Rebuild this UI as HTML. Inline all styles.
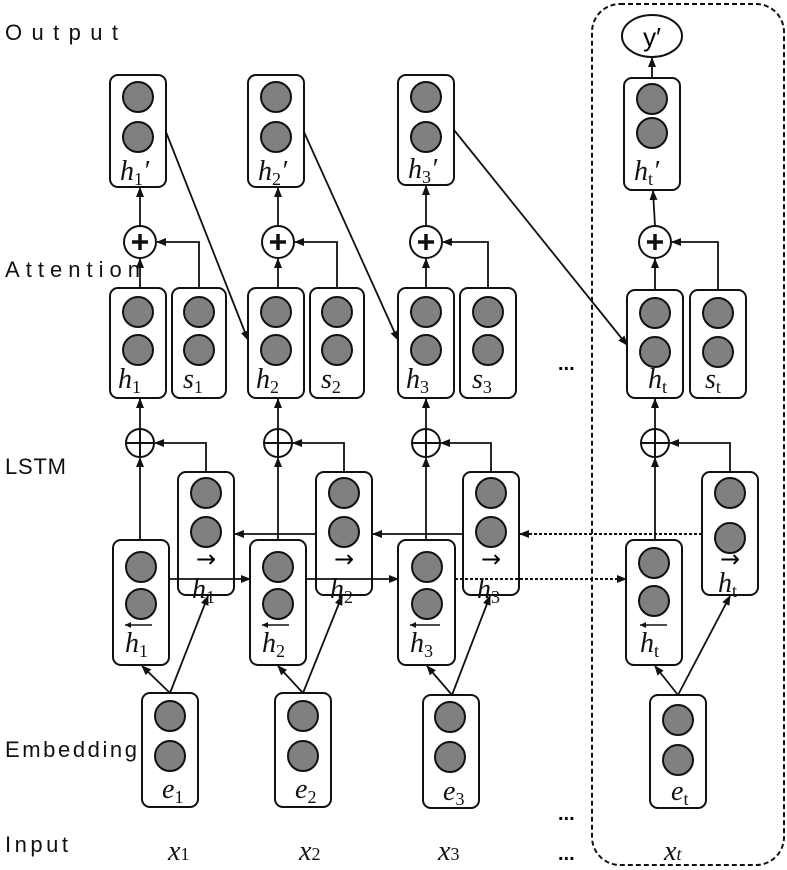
<!DOCTYPE html>
<html><head><meta charset="utf-8"><style>
html,body{margin:0;padding:0;background:#fff;}
svg{display:block;}
.lb{font-family:"Liberation Sans",sans-serif;font-size:22px;fill:#111;}
.m{font-family:"Liberation Serif",serif;font-style:italic;font-size:28px;fill:#111;}
.s{font-size:18px;font-style:normal;}
.c{fill:#808080;stroke:#111;stroke-width:2;}
.b{fill:#fff;stroke:#111;stroke-width:2;}
.l{stroke:#111;stroke-width:1.8;fill:none;}
.d{stroke:#111;stroke-width:2;fill:none;stroke-dasharray:3,2;}
</style></head><body>
<svg width="787" height="870" viewBox="0 0 787 870" xmlns="http://www.w3.org/2000/svg">
<defs><marker id="a" markerWidth="10" markerHeight="10" refX="9" refY="5" orient="auto" markerUnits="userSpaceOnUse"><path d="M0,1 L10,5 L0,9 z" fill="#111"/></marker></defs>

<!-- dashed frame -->
<rect x="592" y="4" width="192" height="861" rx="28" fill="none" stroke="#111" stroke-width="2" stroke-dasharray="5,3"/>

<!-- left labels -->
<text class="lb" x="5" y="40" textLength="113">Output</text>
<text class="lb" x="5" y="277" textLength="135">Attention</text>
<text class="lb" x="5" y="474" textLength="61">LSTM</text>
<text class="lb" x="5" y="757" textLength="132">Embedding</text>
<text class="lb" x="5" y="852" textLength="63">Input</text>

<!-- y' -->
<ellipse cx="652" cy="36" rx="30" ry="21" class="b"/>
<text x="652" y="46" text-anchor="middle" style="font-family:'Liberation Sans',sans-serif;font-size:26px;">y′</text>
<line class="l" x1="652" y1="78" x2="652" y2="58" marker-end="url(#a)"/>

<!-- ===== h' boxes ===== -->
<g>
<rect class="b" x="110" y="75" width="56" height="112" rx="8"/><circle class="c" cx="138" cy="97" r="15"/><circle class="c" cx="138" cy="137" r="15"/>
<text class="m" x="120" y="180">h<tspan class="s" dy="5">1</tspan><tspan dy="-5">′</tspan></text>
<rect class="b" x="248" y="75" width="56" height="112" rx="8"/><circle class="c" cx="276" cy="97" r="15"/><circle class="c" cx="276" cy="137" r="15"/>
<text class="m" x="258" y="180">h<tspan class="s" dy="5">2</tspan><tspan dy="-5">′</tspan></text>
<rect class="b" x="398" y="75" width="56" height="110" rx="8"/><circle class="c" cx="426" cy="97" r="15"/><circle class="c" cx="426" cy="137" r="15"/>
<text class="m" x="408" y="178">h<tspan class="s" dy="5">3</tspan><tspan dy="-5">′</tspan></text>
<rect class="b" x="624" y="78" width="56" height="112" rx="8"/><circle class="c" cx="652" cy="99" r="15"/><circle class="c" cx="652" cy="133" r="15"/>
<text class="m" x="634" y="180">h<tspan class="s" dy="5">t</tspan><tspan dy="-5">′</tspan></text>
</g>

<!-- ===== attention h / s boxes ===== -->
<g>
<rect class="b" x="110" y="288" width="56" height="110" rx="8"/><circle class="c" cx="138" cy="312" r="15"/><circle class="c" cx="138" cy="350" r="15"/>
<text class="m" x="118" y="388">h<tspan class="s" dy="5">1</tspan></text>
<rect class="b" x="172" y="288" width="54" height="110" rx="8"/><circle class="c" cx="199" cy="312" r="15"/><circle class="c" cx="199" cy="350" r="15"/>
<text class="m" x="183" y="388">s<tspan class="s" dy="5">1</tspan></text>

<rect class="b" x="248" y="288" width="56" height="110" rx="8"/><circle class="c" cx="276" cy="312" r="15"/><circle class="c" cx="276" cy="350" r="15"/>
<text class="m" x="256" y="388">h<tspan class="s" dy="5">2</tspan></text>
<rect class="b" x="310" y="288" width="54" height="110" rx="8"/><circle class="c" cx="337" cy="312" r="15"/><circle class="c" cx="337" cy="350" r="15"/>
<text class="m" x="321" y="388">s<tspan class="s" dy="5">2</tspan></text>

<rect class="b" x="398" y="288" width="56" height="110" rx="8"/><circle class="c" cx="426" cy="312" r="15"/><circle class="c" cx="426" cy="350" r="15"/>
<text class="m" x="406" y="388">h<tspan class="s" dy="5">3</tspan></text>
<rect class="b" x="460" y="288" width="56" height="110" rx="8"/><circle class="c" cx="488" cy="312" r="15"/><circle class="c" cx="488" cy="350" r="15"/>
<text class="m" x="472" y="388">s<tspan class="s" dy="5">3</tspan></text>

<rect class="b" x="627" y="290" width="56" height="108" rx="8"/><circle class="c" cx="655" cy="313" r="15"/><circle class="c" cx="655" cy="352" r="15"/>
<text class="m" x="648" y="388">h<tspan class="s" dy="5">t</tspan></text>
<rect class="b" x="690" y="290" width="56" height="108" rx="8"/><circle class="c" cx="718" cy="313" r="15"/><circle class="c" cx="718" cy="352" r="15"/>
<text class="m" x="705" y="388">s<tspan class="s" dy="5">t</tspan></text>
</g>

<!-- attention plus nodes and connectors -->
<g>
<circle class="b" cx="140" cy="242" r="16"/><circle class="b" cx="278" cy="242" r="16"/><circle class="b" cx="426" cy="242" r="16"/><circle class="b" cx="655" cy="242" r="16"/>
<path d="M132,242h16M140,234v16M270,242h16M278,234v16M418,242h16M426,234v16M647,242h16M655,234v16" stroke="#111" stroke-width="3.5"/>
<line class="l" x1="140" y1="288" x2="140" y2="259" marker-end="url(#a)"/>
<line class="l" x1="140" y1="226" x2="140" y2="188" marker-end="url(#a)"/>
<path class="l" d="M199,288V242H157" marker-end="url(#a)"/>
<line class="l" x1="278" y1="288" x2="278" y2="259" marker-end="url(#a)"/>
<line class="l" x1="278" y1="226" x2="278" y2="188" marker-end="url(#a)"/>
<path class="l" d="M337,288V242H295" marker-end="url(#a)"/>
<line class="l" x1="426" y1="288" x2="426" y2="259" marker-end="url(#a)"/>
<line class="l" x1="426" y1="226" x2="426" y2="186" marker-end="url(#a)"/>
<path class="l" d="M488,288V242H443" marker-end="url(#a)"/>
<line class="l" x1="655" y1="290" x2="655" y2="259" marker-end="url(#a)"/>
<line class="l" x1="655" y1="226" x2="653" y2="191" marker-end="url(#a)"/>
<path class="l" d="M718,290V242H672" marker-end="url(#a)"/>
<!-- diagonals -->
<line class="l" x1="166" y1="132" x2="248" y2="340" marker-end="url(#a)"/>
<line class="l" x1="304" y1="132" x2="398" y2="340" marker-end="url(#a)"/>
<line class="l" x1="454" y1="130" x2="627" y2="345" marker-end="url(#a)"/>
</g>
<text x="558" y="370" style="font-family:'Liberation Sans';font-size:20px;font-weight:bold;">...</text>

<!-- ===== LSTM ===== -->
<g>
<!-- oplus -->
<circle class="b" cx="140" cy="443" r="14"/><circle class="b" cx="278" cy="443" r="14"/><circle class="b" cx="426" cy="443" r="14"/><circle class="b" cx="655" cy="443" r="14"/>
<path d="M126,443h28M140,429v28M264,443h28M278,429v28M412,443h28M426,429v28M641,443h28M655,429v28" stroke="#111" stroke-width="2"/>
<line class="l" x1="140" y1="429" x2="140" y2="399" marker-end="url(#a)"/>
<line class="l" x1="278" y1="429" x2="278" y2="399" marker-end="url(#a)"/>
<line class="l" x1="426" y1="429" x2="426" y2="399" marker-end="url(#a)"/>
<line class="l" x1="655" y1="429" x2="655" y2="399" marker-end="url(#a)"/>
<line class="l" x1="140" y1="540" x2="140" y2="458" marker-end="url(#a)"/>
<line class="l" x1="278" y1="540" x2="278" y2="458" marker-end="url(#a)"/>
<line class="l" x1="426" y1="540" x2="426" y2="458" marker-end="url(#a)"/>
<line class="l" x1="655" y1="540" x2="655" y2="458" marker-end="url(#a)"/>
<path class="l" d="M206,472V443H155" marker-end="url(#a)"/>
<path class="l" d="M344,472V443H293" marker-end="url(#a)"/>
<path class="l" d="M491,472V443H441" marker-end="url(#a)"/>
<path class="l" d="M730,472V443H670" marker-end="url(#a)"/>

<!-- backward arrows (y=534) -->
<line class="l" x1="316" y1="534" x2="235" y2="534" marker-end="url(#a)"/>
<line class="l" x1="463" y1="534" x2="373" y2="534" marker-end="url(#a)"/>
<line class="d" x1="702" y1="534" x2="520" y2="534" marker-end="url(#a)"/>

<!-- forward boxes -->
<rect class="b" x="178" y="472" width="56" height="123" rx="8"/><circle class="c" cx="206" cy="493" r="15"/><circle class="c" cx="206" cy="532" r="15"/>
<text x="206" y="567" text-anchor="middle" style="font-family:'DejaVu Sans';font-size:24px;">→</text>
<text class="m" x="192" y="598">h<tspan class="s" dy="5">1</tspan></text>
<rect class="b" x="316" y="472" width="56" height="123" rx="8"/><circle class="c" cx="344" cy="493" r="15"/><circle class="c" cx="344" cy="532" r="15"/>
<text x="344" y="567" text-anchor="middle" style="font-family:'DejaVu Sans';font-size:24px;">→</text>
<text class="m" x="330" y="598">h<tspan class="s" dy="5">2</tspan></text>
<rect class="b" x="463" y="472" width="56" height="123" rx="8"/><circle class="c" cx="491" cy="493" r="15"/><circle class="c" cx="491" cy="532" r="15"/>
<text x="491" y="567" text-anchor="middle" style="font-family:'DejaVu Sans';font-size:24px;">→</text>
<text class="m" x="477" y="598">h<tspan class="s" dy="5">3</tspan></text>
<rect class="b" x="702" y="472" width="56" height="123" rx="8"/><circle class="c" cx="730" cy="493" r="15"/><circle class="c" cx="730" cy="538" r="15"/>
<text x="730" y="567" text-anchor="middle" style="font-family:'DejaVu Sans';font-size:24px;">→</text>
<text class="m" x="718" y="592">h<tspan class="s" dy="5">t</tspan></text>

<!-- backward boxes -->
<rect class="b" x="113" y="540" width="56" height="125" rx="8"/><circle class="c" cx="141" cy="567" r="15"/><circle class="c" cx="141" cy="604" r="15"/>
<line x1="125" y1="625" x2="152" y2="625" stroke="#111" stroke-width="1.6"/><path d="M125,625l6,-3v6z" fill="#111"/>
<text class="m" x="125" y="652">h<tspan class="s" dy="5">1</tspan></text>
<rect class="b" x="250" y="540" width="56" height="125" rx="8"/><circle class="c" cx="278" cy="567" r="15"/><circle class="c" cx="278" cy="604" r="15"/>
<line x1="262" y1="625" x2="289" y2="625" stroke="#111" stroke-width="1.6"/><path d="M262,625l6,-3v6z" fill="#111"/>
<text class="m" x="262" y="652">h<tspan class="s" dy="5">2</tspan></text>
<rect class="b" x="398" y="540" width="57" height="125" rx="8"/><circle class="c" cx="427" cy="567" r="15"/><circle class="c" cx="427" cy="604" r="15"/>
<line x1="410" y1="625" x2="440" y2="625" stroke="#111" stroke-width="1.6"/><path d="M410,625l6,-3v6z" fill="#111"/>
<text class="m" x="410" y="652">h<tspan class="s" dy="5">3</tspan></text>
<rect class="b" x="626" y="540" width="56" height="125" rx="8"/><circle class="c" cx="654" cy="563" r="15"/><circle class="c" cx="654" cy="601" r="15"/>
<line x1="640" y1="625" x2="667" y2="625" stroke="#111" stroke-width="1.6"/><path d="M640,625l6,-3v6z" fill="#111"/>
<text class="m" x="640" y="652">h<tspan class="s" dy="5">t</tspan></text>

<!-- forward arrows (y=579) -->
<line class="l" x1="169" y1="579" x2="250" y2="579" marker-end="url(#a)"/>
<line class="l" x1="306" y1="579" x2="398" y2="579" marker-end="url(#a)"/>
<line class="d" x1="455" y1="579" x2="626" y2="579" marker-end="url(#a)"/>
</g>

<!-- ===== Embedding ===== -->
<g>
<rect class="b" x="142" y="693" width="56" height="114" rx="8"/><circle class="c" cx="170" cy="716" r="15"/><circle class="c" cx="170" cy="756" r="15"/>
<text class="m" x="162" y="798">e<tspan class="s" dy="5">1</tspan></text>
<rect class="b" x="275" y="693" width="56" height="114" rx="8"/><circle class="c" cx="303" cy="716" r="15"/><circle class="c" cx="303" cy="756" r="15"/>
<text class="m" x="295" y="798">e<tspan class="s" dy="5">2</tspan></text>
<rect class="b" x="423" y="695" width="56" height="113" rx="8"/><circle class="c" cx="450" cy="717" r="15"/><circle class="c" cx="450" cy="757" r="15"/>
<text class="m" x="443" y="800">e<tspan class="s" dy="5">3</tspan></text>
<rect class="b" x="650" y="695" width="56" height="113" rx="8"/><circle class="c" cx="678" cy="720" r="15"/><circle class="c" cx="678" cy="760" r="15"/>
<text class="m" x="671" y="800">e<tspan class="s" dy="5">t</tspan></text>

<line class="l" x1="170" y1="693" x2="142" y2="666" marker-end="url(#a)"/>
<line class="l" x1="170" y1="693" x2="208" y2="596" marker-end="url(#a)"/>
<line class="l" x1="303" y1="693" x2="278" y2="666" marker-end="url(#a)"/>
<line class="l" x1="303" y1="693" x2="342" y2="596" marker-end="url(#a)"/>
<line class="l" x1="452" y1="695" x2="427" y2="666" marker-end="url(#a)"/>
<line class="l" x1="452" y1="695" x2="490" y2="596" marker-end="url(#a)"/>
<line class="l" x1="678" y1="695" x2="655" y2="666" marker-end="url(#a)"/>
<line class="l" x1="678" y1="695" x2="730" y2="596" marker-end="url(#a)"/>
</g>
<text x="558" y="820" style="font-family:'Liberation Sans';font-size:20px;font-weight:bold;">...</text>

<!-- ===== Input ===== -->
<g class="m" style="font-size:28px;">
<text x="168" y="860">x<tspan class="s" dy="0">1</tspan></text>
<text x="299" y="860">x<tspan class="s" dy="0">2</tspan></text>
<text x="438" y="860">x<tspan class="s" dy="0">3</tspan></text>
<text x="664" y="860">x<tspan class="s" dy="0" style="font-style:italic">t</tspan></text>
</g>
<text x="558" y="860" style="font-family:'Liberation Sans';font-size:20px;font-weight:bold;">...</text>
</svg>
</body></html>
